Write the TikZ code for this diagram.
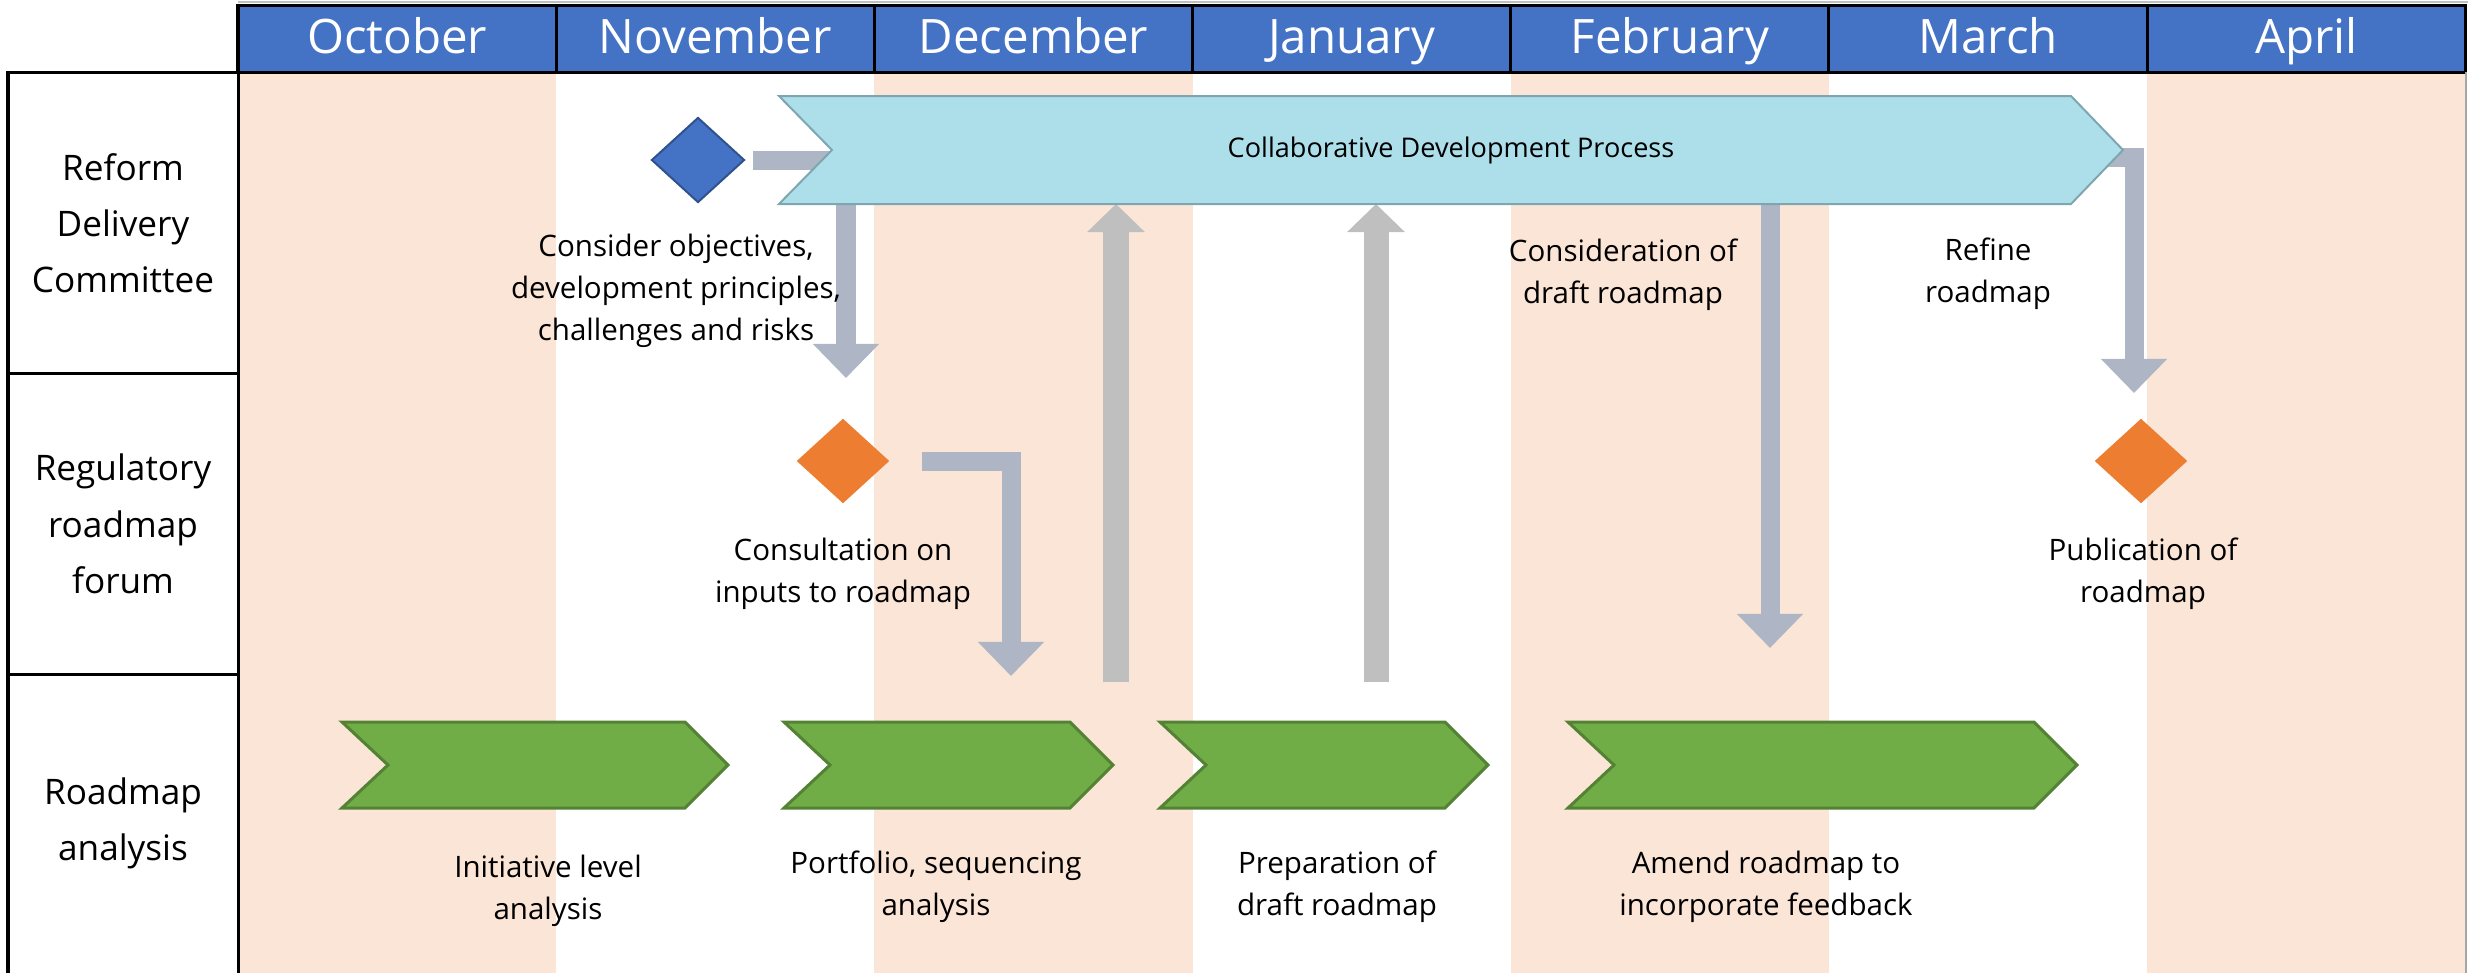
\documentclass[tikz,border=0pt]{standalone}
\usepackage{fontspec}
\setmainfont{Open Sans}
\usepackage{xcolor}
\usetikzlibrary{shapes.geometric,arrows.meta}

\definecolor{headerblue}{HTML}{4472C4}
\definecolor{peach}{HTML}{FBE5D6}
\definecolor{collabfill}{HTML}{ADDFEB}
\definecolor{collabline}{HTML}{7FA6B0}
\definecolor{flowgray}{HTML}{AEB5C4}
\definecolor{upgray}{HTML}{BFBFBF}
\definecolor{msblueline}{HTML}{2F528F}
\definecolor{msorange}{HTML}{ED7D31}
\definecolor{chevgreen}{HTML}{70AD47}
\definecolor{chevline}{HTML}{548235}

\begin{document}
\begin{tikzpicture}[x=0.01cm, y=-0.01cm,
    gridline/.style={black, line width=0.03cm},
    monthcell/.style={fill=headerblue, draw=black, line width=0.03cm, minimum width=3.182cm,
      minimum height=0.66cm, inner sep=0pt, text height=9.6pt, text depth=1.1pt,
      text=white, font=\fontsize{13.5}{16}\selectfont},
    lanelabel/.style={align=center, font=\fontsize{10}{16}\selectfont},
    stepnote/.style={align=center, font=\fontsize{8.4}{11.95}\selectfont},
    milestone/.style={diamond, inner sep=0pt, minimum width=0.93cm, minimum height=0.85cm},
    flowarrow/.style={draw=flowgray, line width=0.19cm, -{Triangle[width=0.64cm,length=0.34cm]}},
    feedarrow/.style={draw=upgray, line width=0.25cm, -{Triangle[width=0.56cm,length=0.28cm]}},
    greenchev/.style={fill=chevgreen, draw=chevline, line width=0.03cm}]
            \useasboundingbox (0,0) rectangle (2468,972);

            % Shade alternate months
            \foreach \i in {0,2,4,6}
                \fill[peach] (238+318.2*\i,72) rectangle ++(318.2,920);

            % Month header
            \draw[gray!50, line width=0.015cm] (238,2) -- (2468,2);
            \foreach \m [count=\i from 0] in {October,November,December,January,February,March,April}
                \node[monthcell] (month\i) at (238+318.2*\i+159.1,39) {\m};

            % Swimlanes
            \draw[gridline] (8,990) |- (238,72);
            \draw[gridline] (8,373) -- (238,373);
            \draw[gridline] (8,674) -- (238,674);
            \draw[gridline] (238,6) -- (238,990);
            \draw[gray!70, line width=0.015cm] (2466,72) -- (2466,990);
            \node[lanelabel] (rdc) at (123,223) {Reform\\Delivery\\Committee};
            \node[lanelabel] (rrf) at (123,524) {Regulatory\\roadmap\\forum};
            \node[lanelabel] (rma) at (123,823) {Roadmap\\analysis};

            % Milestones
            \node[milestone, fill=headerblue, draw=msblueline, line width=0.02cm] (kickoff) at (698,160) {};
            \node[milestone, fill=msorange] (consult) at (843,461) {};
            \node[milestone, fill=msorange] (publish) at (2141,461) {};

            % Ends of the connectors
            \coordinate (collabTip) at (2123,150);
            \coordinate (collabNotch) at (832,150);
            \coordinate (collabBase) at (1451,204);
            \coordinate (inputsIn) at (846,378);
            \coordinate (portfolioIn) at (1011,676);
            \coordinate (draftOut) at (1116,682);
            \coordinate (prepOut) at (1376,682);
            \coordinate (amendIn) at (1770,648);
            \coordinate (publishIn) at (2134,393);

            % Connectors
            \draw[flowarrow, -] ([xshift=0.07cm]kickoff.east) -- (kickoff.east -| collabNotch);
            \draw[flowarrow] (inputsIn |- collabNotch) -- (inputsIn);
            \draw[flowarrow] ([xshift=0.32cm]consult.east) -| (portfolioIn);
            \draw[feedarrow] (draftOut) -- (draftOut |- collabBase);
            \draw[feedarrow] (prepOut) -- (prepOut |- collabBase);
            \draw[flowarrow] (amendIn |- collabNotch) -- (amendIn);
            \draw[flowarrow] ([xshift=-0.2cm,yshift=-0.07cm]collabTip) -| (publishIn);

            % Collaborative process
            \draw[fill=collabfill, draw=collabline, line width=0.02cm]
                (779,96) -- (2071,96) -- (collabTip) -- (2071,204) -- (779,204) -- (collabNotch) -- cycle;
            \node[font=\fontsize{7.7}{9}\selectfont] (collab) at (1451,150) {Collaborative Development Process};

            % Analysis steps
            \foreach \l/\r in {342/728, 784/1113, 1160/1488, 1568/2077}
                \draw[greenchev] (\l,722) -- (\r-43,722) -- (\r,765) -- (\r-43,808) -- (\l,808) -- (\l+46,765) -- cycle;

            % Notes
            \node[stepnote] (considerTxt) at (676,291) {Consider objectives,\\development principles,\\challenges and risks};
            \node[stepnote] (consultTxt) at (843,574) {Consultation on\\inputs to roadmap};
            \node[stepnote] (publishTxt) at (2143,574) {Publication of\\roadmap};
            \node[stepnote] (reviewTxt) at (1623,275) {Consideration of\\draft roadmap};
            \node[stepnote] (refineTxt) at (1988,274) {Refine\\roadmap};
            \node[stepnote] (initTxt) at (548,891) {Initiative level\\analysis};
            \node[stepnote] (portTxt) at (936,887) {Portfolio, sequencing\\analysis};
            \node[stepnote] (prepTxt) at (1337,887) {Preparation of\\draft roadmap};
            \node[stepnote] (amendTxt) at (1766,887) {Amend roadmap to\\incorporate feedback};
        \end{tikzpicture}
\end{document}
